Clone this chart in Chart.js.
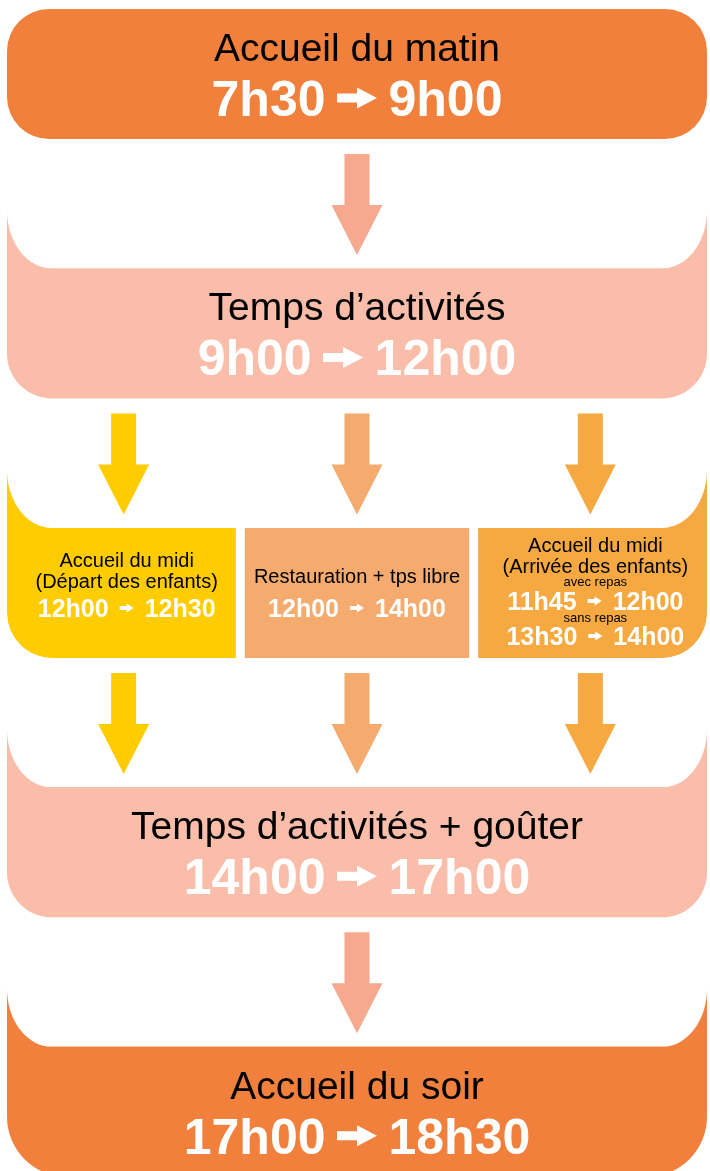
<!DOCTYPE html>
<html lang="fr">
<head>
<meta charset="utf-8">
<title>Journée type</title>
<script src="https://cdn.jsdelivr.net/npm/chart.js@4.4.1/dist/chart.umd.min.js"></script>
<style>
  html, body { margin: 0; padding: 0; background: #fff; }
  #cadre { position: relative; width: 710px; height: 1171px; }
</style>
</head>
<body>
<div id="cadre"><canvas id="chartJournee"></canvas></div>
<script>
// -- Données de la journée --
const etapes = ['Accueil du matin', 'Temps d’activités', null, 'Temps d’activités + goûter', 'Accueil du soir'];
const heuresDebut = ['7h30', '9h00', null, '14h00', '17h00'];
const heuresFin = ['9h00', '12h00', null, '17h00', '18h30'];

// la rangée du midi est coupée en trois cases
const RANG_MIDI = 2;
const midiTitres = [['Accueil du midi', '(Départ des enfants)'], ['Restauration + tps libre'], ['Accueil du midi', '(Arrivée des enfants)']];
const midiNotes = [[], [], ['avec repas', 'sans repas']];
const midiDebut = [['12h00'], ['12h00'], ['11h45', '13h30']];
const midiFin = [['12h30'], ['14h00'], ['12h00', '14h00']];
const colonnes = midiTitres.length;

// -- Couleurs --
const couleursEtapes = ['#F0803C', '#F9BDA9', null, '#F9BDA9', '#F0803C'];
const couleursMidi = ['#FFCC00', '#F5AB6E', '#F5A940'];
const couleurFleche = '#F6A98E';

// -- Mise en page --
const EPAISSEUR = 130;           // hauteur d'une case
const EVASEMENT = 58;            // couleur qui remonte dans les coins
const RX = 45, RY = 58;          // arrondi du blanc entre deux rangées
const POLICE = '"Liberation Sans", Arial, sans-serif';
const grandeFleche = { longueur: 40, tete: 20, hTete: 21, hTige: 9, ecart: 11.5 };
const petiteFleche = { longueur: 14, tete: 7, hTete: 9, hTige: 4, ecart: 11 };
const lignesMidiY = [
  { titres: [-26, -5], notes: [], heures: [24] },
  { titres: [-10], notes: [], heures: [24] },
  { titres: [-41, -20], notes: [-7, 29], heures: [17, 52] },
];

function dessinerHoraire(ctx, debut, fin, cx, base, taille, f) {
  ctx.font = `bold ${taille}px ${POLICE}`;
  const w1 = ctx.measureText(debut).width;
  const w2 = ctx.measureText(fin).width;
  const total = w1 + f.ecart * 2 + f.longueur + w2;
  let x0 = cx - total / 2;
  ctx.fillStyle = '#fff';
  ctx.textAlign = 'left';
  ctx.textBaseline = 'alphabetic';
  ctx.fillText(debut, x0, base);
  const fx = x0 + w1 + f.ecart;
  const fy = base - taille * 0.36;
  ctx.beginPath();
  ctx.rect(fx, fy - f.hTige / 2, f.longueur - f.tete + 0.5, f.hTige);
  ctx.moveTo(fx + f.longueur - f.tete, fy - f.hTete / 2);
  ctx.lineTo(fx + f.longueur, fy);
  ctx.lineTo(fx + f.longueur - f.tete, fy + f.hTete / 2);
  ctx.closePath();
  ctx.fill();
  ctx.fillText(fin, fx + f.longueur + f.ecart, base);
}

function flecheBas(ctx, cx, bas, couleur) {
  ctx.fillStyle = couleur;
  ctx.beginPath();
  ctx.moveTo(cx - 12.5, bas + 15);
  ctx.lineTo(cx + 12.5, bas + 15);
  ctx.lineTo(cx + 12.5, bas + 66);
  ctx.lineTo(cx + 25.5, bas + 66);
  ctx.lineTo(cx, bas + 116);
  ctx.lineTo(cx - 25.5, bas + 66);
  ctx.lineTo(cx - 12.5, bas + 66);
  ctx.closePath();
  ctx.fill();
}

const pluginOrganigramme = {
  id: 'organigramme',
  beforeDatasetsDraw(chart) {
    const { ctx, scales: { x, y } } = chart;
    const gauche = x.getPixelForValue(0);
    const droite = x.getPixelForValue(colonnes);
    ctx.save();
    for (let i = 1; i < etapes.length; i++) {
      const haut = y.getPixelForValue(i) - EPAISSEUR / 2;
      // la couleur de la case remonte derrière le blanc
      for (let c = 0; c < colonnes; c++) {
        ctx.fillStyle = i === RANG_MIDI ? couleursMidi[c] : couleursEtapes[i];
        const x1 = x.getPixelForValue(c), x2 = x.getPixelForValue(c + 1);
        ctx.fillRect(x1, haut - EVASEMENT, x2 - x1, EVASEMENT + 1);
      }
      ctx.fillStyle = '#fff';
      ctx.beginPath();
      ctx.moveTo(gauche, haut - 128);
      ctx.lineTo(droite, haut - 128);
      ctx.lineTo(droite, haut - RY);
      ctx.ellipse(droite - RX, haut - RY, RX, RY, 0, 0, Math.PI / 2);
      ctx.lineTo(gauche + RX, haut);
      ctx.ellipse(gauche + RX, haut - RY, RX, RY, 0, Math.PI / 2, Math.PI);
      ctx.closePath();
      ctx.fill();
    }
    // flèches entre les rangées
    for (let i = 0; i < etapes.length - 1; i++) {
      const bas = y.getPixelForValue(i) + EPAISSEUR / 2;
      if (i === RANG_MIDI - 1 || i === RANG_MIDI) {
        for (let c = 0; c < colonnes; c++) {
          flecheBas(ctx, x.getPixelForValue(c + 0.5), bas, couleursMidi[c]);
        }
      } else {
        flecheBas(ctx, x.getPixelForValue(colonnes / 2), bas, couleurFleche);
      }
    }
    ctx.restore();
  },
  afterDatasetsDraw(chart) {
    const { ctx, scales: { x, y } } = chart;
    ctx.save();
    ctx.textAlign = 'center';
    ctx.textBaseline = 'alphabetic';
    etapes.forEach((titre, i) => {
      if (!titre) return;
      const cx = x.getPixelForValue(colonnes / 2);
      const cy = y.getPixelForValue(i);
      ctx.fillStyle = '#000';
      ctx.font = `39px ${POLICE}`;
      ctx.textAlign = 'center';
      ctx.fillText(titre, cx, cy - 13);
      dessinerHoraire(ctx, heuresDebut[i], heuresFin[i], cx, cy + 42, 50, grandeFleche);
    });
    const cy = y.getPixelForValue(RANG_MIDI);
    for (let c = 0; c < colonnes; c++) {
      const cx = x.getPixelForValue(c + 0.5) + (c === 0 ? 3 : c === 2 ? 5 : 0);
      const pos = lignesMidiY[c];
      ctx.fillStyle = '#000';
      ctx.textAlign = 'center';
      ctx.font = `20px ${POLICE}`;
      midiTitres[c].forEach((t, k) => ctx.fillText(t, cx, cy + pos.titres[k]));
      ctx.font = `13px ${POLICE}`;
      midiNotes[c].forEach((t, k) => ctx.fillText(t, cx, cy + pos.notes[k]));
      midiDebut[c].forEach((d, k) => {
        dessinerHoraire(ctx, d, midiFin[c][k], cx, cy + pos.heures[k], 25, petiteFleche);
      });
      ctx.textAlign = 'center';
    }
    ctx.restore();
  }
};

// -- Données pour Chart.js : barres flottantes horizontales --
const rangsJournee = etapes.map((t, i) => i).filter(i => etapes[i]);
const datasets = [{
  label: 'Journée',
  data: rangsJournee.map(i => ({ x: [0, colonnes], y: i })),
  backgroundColor: rangsJournee.map(i => couleursEtapes[i]),
  borderRadius: ctx => {
    const rang = rangsJournee[ctx.dataIndex];
    if (rang === 0) return 42;
    const r = rang === etapes.length - 1 ? 60 : 45;
    return { topLeft: 0, topRight: 0, bottomLeft: r, bottomRight: r };
  },
}];
midiTitres.forEach((t, c) => {
  datasets.push({
    label: t.join(' '),
    data: [{ x: [c, c + 1], y: RANG_MIDI }],
    backgroundColor: couleursMidi[c],
    borderColor: '#fff',
    borderWidth: { left: c > 0 ? 4.5 : 0, right: c < colonnes - 1 ? 4.5 : 0, top: 0, bottom: 0 },
    borderRadius: { topLeft: 0, topRight: 0, bottomLeft: c === 0 ? 45 : 0, bottomRight: c === colonnes - 1 ? 45 : 0 },
  });
});
// une seule pile : toutes les cases gardent la même épaisseur, centrées sur leur rangée
datasets.forEach(d => {
  d.stack = 'journee';
  d.borderSkipped = false;
  d.barThickness = EPAISSEUR;
  d.inflateAmount = 0;
});

new Chart(document.getElementById('chartJournee'), {
  type: 'bar',
  data: { datasets },
  options: {
    indexAxis: 'y',
    responsive: true,
    maintainAspectRatio: false,
    animation: false,
    events: [],
    layout: { padding: 0 },
    scales: {
      x: { type: 'linear', min: -0.03, max: 3.0129, stacked: false, offset: false, display: false },
      y: { type: 'linear', min: -0.285, max: 4.228, reverse: true, offset: false, display: false },
    },
    plugins: {
      legend: { display: false },
      tooltip: { enabled: false },
    },
  },
  plugins: [pluginOrganigramme],
});
</script>
</body>
</html>
